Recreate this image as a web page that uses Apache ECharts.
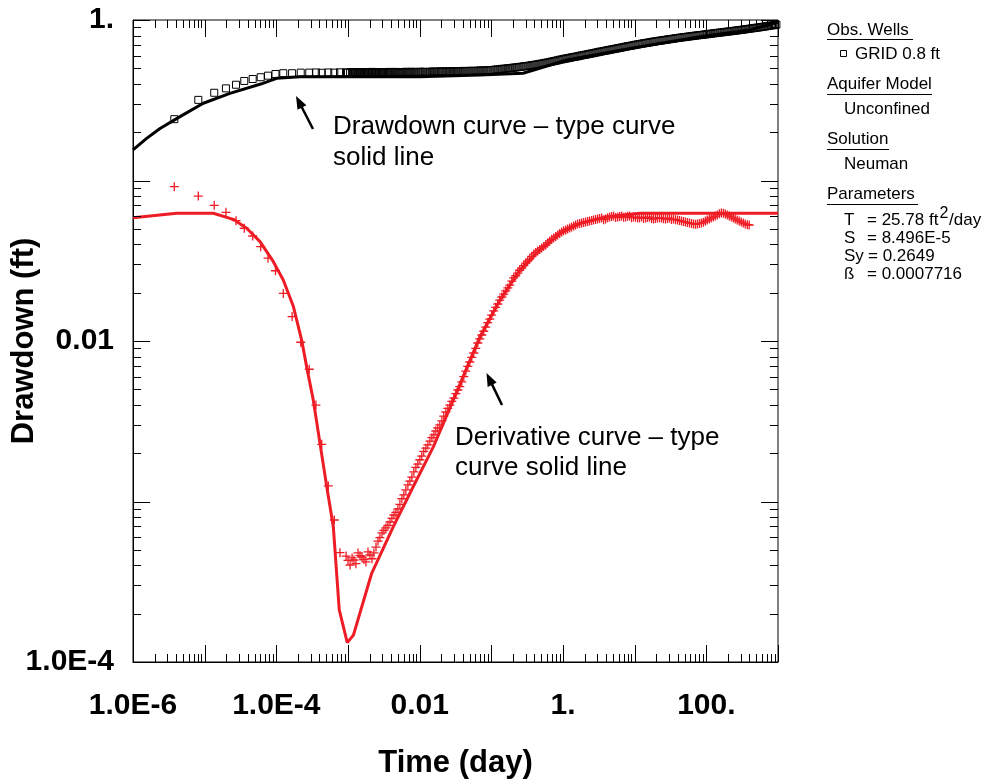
<!DOCTYPE html>
<html>
<head>
<meta charset="utf-8">
<script src="https://cdn.jsdelivr.net/npm/echarts@6/dist/echarts.min.js"></script>
<style>
html,body{margin:0;padding:0;background:#fff;}
#chart{width:990px;height:782px;}
</style>
</head>
<body>
<div id="chart"></div>
<script>
// ---------- DATA ----------
// observation times (day), shared by drawdown and derivative observations
const tObs = [3.77e-6, 8.15e-6, 1.36e-5, 1.98e-5, 2.74e-5, 3.57e-5, 4.68e-5, 6.05e-5, 7.66e-5, 9.73e-5, 1.25e-4, 1.66e-4, 2.19e-4, 2.88e-4, 3.57e-4, 4.30e-4, 5.31e-4, 6.44e-4, 7.73e-4,
  9.4e-4, 1.07e-3, 1.21e-3, 1.38e-3, 1.57e-3, 1.78e-3, 2.02e-3, 2.30e-3, 2.62e-3, 2.98e-3, 3.38e-3, 3.85e-3, 4.37e-3, 4.97e-3, 5.65e-3, 6.42e-3, 7.30e-3, 8.30e-3, 9.44e-3,
  1.07e-2, 1.22e-2, 1.39e-2, 1.58e-2, 1.79e-2, 2.04e-2, 2.32e-2, 2.64e-2, 3.00e-2, 3.41e-2, 3.87e-2, 4.40e-2, 5.00e-2, 5.69e-2, 6.47e-2, 7.35e-2, 8.36e-2, 9.50e-2,
  0.108, 0.123, 0.140, 0.159, 0.181, 0.205, 0.233, 0.265, 0.302, 0.343, 0.390, 0.443, 0.504, 0.573, 0.652, 0.741, 0.842, 0.958,
  1.09, 1.24, 1.41, 1.60, 1.82, 2.07, 2.35, 2.67, 3.04, 3.46, 3.93, 4.47, 5.08, 5.78, 6.57, 7.47, 8.49, 9.65,
  11.0, 12.5, 14.2, 16.1, 18.3, 20.8, 23.7, 26.9, 30.6, 34.8, 39.6, 45.0, 51.1, 58.1, 66.1, 75.1, 85.4, 97.1,
  110, 125, 142, 162, 184, 209, 238, 270, 307, 349, 397, 451, 513, 583, 663, 754, 857, 950];

// observed drawdown (ft) - open squares
const sObs = [0.241, 0.318, 0.352, 0.375, 0.395, 0.417, 0.429, 0.440, 0.450, 0.461, 0.466, 0.466, 0.470, 0.470, 0.471, 0.469, 0.471, 0.470, 0.472,
  0.472, 0.470, 0.473, 0.471, 0.474, 0.470, 0.472, 0.473, 0.471, 0.474, 0.472, 0.475, 0.473, 0.471, 0.474, 0.476, 0.473, 0.475, 0.474,
  0.475, 0.474, 0.476, 0.477, 0.475, 0.478, 0.477, 0.479, 0.478, 0.480, 0.479, 0.481, 0.482, 0.481, 0.483, 0.484, 0.485, 0.487,
  0.489, 0.492, 0.496, 0.498, 0.501, 0.505, 0.508, 0.512, 0.516, 0.520, 0.525, 0.530, 0.535, 0.541, 0.547, 0.554, 0.561, 0.568,
  0.575, 0.581, 0.588, 0.594, 0.602, 0.608, 0.615, 0.622, 0.630, 0.637, 0.644, 0.652, 0.659, 0.666, 0.674, 0.682, 0.689, 0.697,
  0.705, 0.712, 0.719, 0.726, 0.733, 0.740, 0.746, 0.752, 0.759, 0.765, 0.772, 0.778, 0.784, 0.790, 0.796, 0.802, 0.807, 0.813,
  0.819, 0.825, 0.831, 0.837, 0.843, 0.849, 0.855, 0.861, 0.868, 0.875, 0.882, 0.889, 0.896, 0.904, 0.912, 0.920, 0.928, 0.935];

// observed derivative (ft) - red crosses (ends before the last observation times)
const dObs = [0.0915, 0.080, 0.070, 0.0633, 0.0562, 0.0504, 0.0451, 0.0387, 0.0328, 0.0274, 0.0198, 0.0142, 0.00982, 0.00667, 0.00399, 0.00227, 0.00125, 0.000767, 0.000480,
  4.57e-4, 4.02e-4, 4.32e-4, 4.78e-4, 4.51e-4, 4.20e-4, 4.64e-4, 4.78e-4, 5.67e-4, 6.37e-4, 6.84e-4, 7.45e-4, 8.24e-4, 8.98e-4, 1.04e-3, 1.18e-3, 1.34e-3, 1.53e-3, 1.71e-3,
  1.92e-3, 2.15e-3, 2.38e-3, 2.60e-3, 2.87e-3, 3.18e-3, 3.61e-3, 3.99e-3, 4.41e-3, 4.95e-3, 5.56e-3, 6.50e-3, 7.40e-3, 8.42e-3, 9.72e-3, 1.09e-2, 1.22e-2, 1.37e-2,
  1.54e-2, 1.70e-2, 1.88e-2, 2.05e-2, 2.23e-2, 2.47e-2, 2.65e-2, 2.85e-2, 3.06e-2, 3.24e-2, 3.48e-2, 3.64e-2, 3.80e-2, 3.96e-2, 4.20e-2, 4.38e-2, 4.58e-2, 4.78e-2,
  4.92e-2, 5.06e-2, 5.21e-2, 5.36e-2, 5.43e-2, 5.51e-2, 5.59e-2, 5.67e-2, 5.75e-2, 5.83e-2, 5.75e-2, 5.92e-2, 6.01e-2, 5.92e-2, 6.01e-2, 5.92e-2, 6.01e-2, 5.92e-2,
  5.83e-2, 5.92e-2, 5.83e-2, 5.92e-2, 5.75e-2, 5.83e-2, 5.83e-2, 5.75e-2, 5.83e-2, 5.75e-2, 5.67e-2, 5.59e-2, 5.51e-2, 5.43e-2, 5.36e-2, 5.36e-2, 5.43e-2, 5.59e-2,
  5.75e-2, 5.92e-2, 6.10e-2, 6.28e-2, 6.18e-2, 6.01e-2, 5.83e-2, 5.67e-2, 5.51e-2, 5.36e-2, 5.28e-2];

// second (interleaved) block of logger readings in the dense part of the record
const tObsB = [1.00e-3, 1.14e-3, 1.29e-3, 1.47e-3, 1.67e-3, 1.90e-3, 2.16e-3, 2.46e-3, 2.79e-3, 3.17e-3, 3.61e-3, 4.10e-3, 4.66e-3, 5.30e-3, 6.02e-3, 6.85e-3, 7.78e-3, 8.85e-3, 1.005e-2,
  1.14e-2, 1.30e-2, 1.48e-2, 1.68e-2, 1.91e-2, 2.17e-2, 2.47e-2, 2.81e-2, 3.20e-2, 3.63e-2, 4.13e-2, 4.69e-2, 5.33e-2, 6.07e-2, 6.90e-2, 7.84e-2, 8.91e-2, 0.101,
  0.115, 0.131, 0.149, 0.170, 0.193, 0.219, 0.248, 0.283, 0.322, 0.366, 0.416, 0.473, 0.537, 0.611, 0.695, 0.790, 0.898, 1.02,
  1.16, 1.32, 1.50, 1.71, 1.94, 2.21, 2.51, 2.85, 3.24, 3.69, 4.19, 4.77, 5.42, 6.16, 7.00, 7.96, 9.05, 10.3,
  11.7, 13.3, 15.1, 17.2, 19.5, 22.2, 25.2, 28.7, 32.6, 37.1, 42.2, 48.0, 54.5, 62.0, 70.5, 80.1, 91.1, 103,
  117, 133, 152, 173, 196, 223, 253, 288, 328, 373, 424, 482, 548, 623, 708, 805, 903];
const sObsB = [0.470, 0.474, 0.472, 0.469, 0.473, 0.471, 0.475, 0.470, 0.473, 0.472, 0.470, 0.474, 0.475, 0.472, 0.473, 0.471, 0.476, 0.473, 0.476,
  0.476, 0.473, 0.477, 0.476, 0.479, 0.476, 0.480, 0.477, 0.481, 0.478, 0.482, 0.480, 0.483, 0.482, 0.485, 0.484, 0.487, 0.488,
  0.491, 0.493, 0.497, 0.500, 0.503, 0.506, 0.510, 0.514, 0.518, 0.523, 0.527, 0.533, 0.538, 0.544, 0.551, 0.557, 0.565, 0.572,
  0.578, 0.585, 0.591, 0.598, 0.605, 0.612, 0.619, 0.626, 0.634, 0.641, 0.648, 0.655, 0.663, 0.670, 0.678, 0.686, 0.693, 0.701,
  0.708, 0.716, 0.722, 0.730, 0.736, 0.743, 0.749, 0.756, 0.762, 0.769, 0.775, 0.781, 0.787, 0.793, 0.799, 0.805, 0.810, 0.816,
  0.822, 0.828, 0.834, 0.840, 0.846, 0.852, 0.858, 0.865, 0.871, 0.879, 0.886, 0.893, 0.900, 0.908, 0.916, 0.924, 0.932];
const dObsB = [4.30e-4, 4.45e-4, 4.10e-4, 4.60e-4, 4.35e-4, 4.85e-4, 4.40e-4, 5.20e-4, 5.95e-4, 6.60e-4, 7.10e-4, 7.85e-4, 8.55e-4, 9.60e-4, 1.10e-3, 1.27e-3, 1.42e-3, 1.63e-3, 1.82e-3,
  2.05e-3, 2.25e-3, 2.50e-3, 2.75e-3, 3.00e-3, 3.40e-3, 3.80e-3, 4.20e-3, 4.70e-3, 5.20e-3, 6.00e-3, 6.95e-3, 7.90e-3, 9.00e-3, 1.03e-2, 1.15e-2, 1.30e-2, 1.45e-2,
  1.62e-2, 1.80e-2, 1.96e-2, 2.14e-2, 2.36e-2, 2.55e-2, 2.76e-2, 2.95e-2, 3.15e-2, 3.36e-2, 3.56e-2, 3.72e-2, 3.88e-2, 4.08e-2, 4.30e-2, 4.48e-2, 4.68e-2, 4.86e-2,
  4.99e-2, 5.14e-2, 5.28e-2, 5.40e-2, 5.47e-2, 5.55e-2, 5.63e-2, 5.71e-2, 5.79e-2, 5.70e-2, 5.86e-2, 5.96e-2, 5.88e-2, 5.97e-2, 5.90e-2, 5.98e-2, 5.87e-2, 5.90e-2,
  5.87e-2, 5.80e-2, 5.88e-2, 5.79e-2, 5.80e-2, 5.86e-2, 5.78e-2, 5.80e-2, 5.71e-2, 5.70e-2, 5.63e-2, 5.55e-2, 5.47e-2, 5.40e-2, 5.33e-2, 5.40e-2, 5.50e-2, 5.67e-2,
  5.84e-2, 6.00e-2, 6.20e-2, 6.24e-2, 6.10e-2, 5.92e-2, 5.75e-2, 5.59e-2, 5.43e-2, 5.30e-2];

// Neuman type curve: drawdown
const tTypeS = [1e-6, 1.55e-6, 2.38e-6, 4.53e-6, 9.57e-6, 2.25e-5, 6.05e-5, 1.01e-4, 2.14e-4, 1.01e-2, 6.94e-2, 0.277, 1.13, 9.46, 81.5, 406, 1000];
const sType  = [0.155, 0.183, 0.211, 0.250, 0.303, 0.349, 0.399, 0.433, 0.443, 0.443, 0.454, 0.466, 0.563, 0.669, 0.787, 0.867, 0.972];

// Neuman type curve: derivative
const tTypeD = [1e-6, 4.07e-6, 1.32e-5, 2.51e-5, 3.85e-5, 5.92e-5, 9.08e-5, 1.25e-4, 1.73e-4, 2.26e-4, 2.65e-4, 3.28e-4, 4.06e-4, 5.05e-4, 6.24e-4, 7.55e-4, 9.77e-4, 1.19e-3, 2.14e-3, 4.29e-3, 8.15e-3, 1.55e-2, 2.94e-2, 6.94e-2, 0.132, 0.251, 0.477, 0.907, 1.73, 4.06, 11.9, 1000];
const dType  = [0.0586, 0.0625, 0.0625, 0.0573, 0.0504, 0.0416, 0.0312, 0.0240, 0.0164, 0.0101, 0.0069, 0.00428, 0.00231, 0.00124, 0.000697, 0.000211, 0.000132, 0.000147, 0.000357, 0.000697, 0.00124, 0.00219, 0.00428, 0.01064, 0.0180, 0.0277, 0.0369, 0.0469, 0.0541, 0.0595, 0.0625, 0.0625];

// axis ranges and tick labels
const xRange = [1e-6, 1000];
const yRange = [1e-4, 1];
const xTickExps = [-6, -4, -2, 0, 2];
const xTickLabels = ['1.0E-6', '1.0E-4', '0.01', '1.', '100.'];
const yTickExps = [-4, -2, 0];
const yTickLabels = ['1.0E-4', '0.01', '1.'];

// ---------- CHART ----------
const FONT = '"Liberation Sans", Arial, Helvetica, sans-serif';
const RED = '#ee1c25';

function zip(xs, ys) { const out = []; for (let i = 0; i < ys.length; i++) out.push([xs[i], ys[i]]); return out; }
function labelFor(exps, labels) {
  return function (v) {
    const e = Math.round(Math.log10(v));
    if (Math.abs(Math.log10(v) - e) > 1e-6) return '';
    const i = exps.indexOf(e);
    return i >= 0 ? labels[i] : '';
  };
}
function logTicks(range) {
  const out = [];
  const e0 = Math.round(Math.log10(range[0])), e1 = Math.round(Math.log10(range[1]));
  for (let e = e0; e <= e1; e++) {
    for (let m = 1; m <= 9; m++) {
      const v = m * Math.pow(10, e);
      if (v > range[1] * 1.0000001) break;
      out.push({ v: v, major: m === 1 });
    }
  }
  return out;
}
const xTicks = logTicks(xRange);
const yTicks = logTicks(yRange);

function arrow(tipX, tipY, tailX, tailY) {
  const dx = tipX - tailX, dy = tipY - tailY, L = Math.sqrt(dx * dx + dy * dy);
  const ux = dx / L, uy = dy / L, hl = 13, hw = 5;
  const bx = tipX - ux * hl, by = tipY - uy * hl;
  return [
    { type: 'line', shape: { x1: tailX, y1: tailY, x2: bx + ux * 2, y2: by + uy * 2 }, style: { stroke: '#000', lineWidth: 2.5 } },
    { type: 'polygon', shape: { points: [[tipX, tipY], [bx - uy * hw, by + ux * hw], [bx + uy * hw, by - ux * hw]] }, style: { fill: '#000' } }
  ];
}
function txt(x, y, s, size) {
  return { type: 'text', x: x, y: y, style: { text: s, font: size + 'px ' + FONT, fill: '#000', verticalAlign: 'middle', textVerticalAlign: 'middle', align: 'left', textAlign: 'left' } };
}
function uline(x1, x2, y) {
  return { type: 'line', shape: { x1: x1, y1: y, x2: x2, y2: y }, style: { stroke: '#000', lineWidth: 1 } };
}

const graphics = [].concat(
  arrow(296, 96, 313, 129),
  arrow(486.5, 373, 502, 405),
  [
    txt(333, 127, 'Drawdown curve \u2013 type curve', 26),
    txt(333, 158, 'solid line', 26),
    txt(455, 438, 'Derivative curve \u2013 type', 26),
    txt(455, 468, 'curve solid line', 26),
    // side legend
    txt(827, 30, 'Obs. Wells', 17), uline(827, 913, 39.5),
    { type: 'rect', shape: { x: 840.5, y: 50.5, width: 6, height: 6 }, style: { fill: 'none', stroke: '#000', lineWidth: 1 } },
    txt(855, 54, 'GRID 0.8 ft', 17),
    txt(827, 84, 'Aquifer Model', 17), uline(827, 932, 94.5),
    txt(844, 109, 'Unconfined', 17),
    txt(827, 139, 'Solution', 17), uline(827, 889, 149.5),
    txt(844, 164, 'Neuman', 17),
    txt(827, 194, 'Parameters', 17), uline(827, 918, 204.5),
    txt(844, 220, 'T', 17), txt(867, 220, '= 25.78 ft', 17), txt(939.5, 214, '2', 16), txt(949, 220, '/day', 17),
    txt(844, 238, 'S', 17), txt(867, 238, '= 8.496E-5', 17),
    txt(844, 256, 'Sy', 17), txt(868, 256, '= 0.2649', 17),
    txt(844, 274, '\u00df', 17), txt(867, 274, '= 0.0007716', 17)
  ]
);

const chart = echarts.init(document.getElementById('chart'), null, { renderer: 'canvas' });
const obsSquare = { color: 'none', borderColor: '#000', borderWidth: 1, opacity: 1 };
const obsCross = { color: 'none', borderColor: RED, borderWidth: 1.3, opacity: 1 };
const CROSS = 'path://M0,5L10,5M5,0L5,10';
const option = {
  animation: false,
  backgroundColor: '#fff',
  grid: { left: 133, top: 20, width: 645, height: 642, containLabel: false, outerBoundsMode: 'none', show: true, borderColor: '#000', borderWidth: 1, backgroundColor: 'transparent' },
  xAxis: {
    type: 'log', logBase: 10, min: xRange[0], max: xRange[1],
    name: 'Time (day)', nameLocation: 'middle', nameGap: 86, nameMoveOverlap: false,
    nameTextStyle: { fontFamily: FONT, fontWeight: 'bold', fontSize: 31, color: '#000' },
    axisLine: { show: true, lineStyle: { color: '#000', width: 1 } },
    axisTick: { show: false }, minorTick: { show: false },
    splitLine: { show: false }, minorSplitLine: { show: false },
    axisLabel: { formatter: labelFor(xTickExps, xTickLabels), margin: 29, fontFamily: FONT, fontWeight: 'bold', fontSize: 30, color: '#000', showMinLabel: true, showMaxLabel: true, hideOverlap: false }
  },
  yAxis: {
    type: 'log', logBase: 10, min: yRange[0], max: yRange[1],
    name: 'Drawdown (ft)', nameLocation: 'middle', nameGap: 93, nameRotate: 90, nameMoveOverlap: false,
    nameTextStyle: { fontFamily: FONT, fontWeight: 'bold', fontSize: 31, color: '#000' },
    axisLine: { show: true, lineStyle: { color: '#000', width: 1 } },
    axisTick: { show: false }, minorTick: { show: false },
    splitLine: { show: false }, minorSplitLine: { show: false },
    axisLabel: { formatter: labelFor(yTickExps, yTickLabels), margin: 19, fontFamily: FONT, fontWeight: 'bold', fontSize: 30, color: '#000', showMinLabel: true, showMaxLabel: true, hideOverlap: false }
  },
  series: [
    { name: 'Type curve', type: 'line', data: zip(tTypeS, sType), showSymbol: false, symbol: 'none', lineStyle: { color: '#000', width: 3 }, z: 2, clip: true },
    { name: 'Derivative type curve', type: 'line', data: zip(tTypeD, dType), showSymbol: false, symbol: 'none', lineStyle: { color: RED, width: 3 }, z: 2, clip: true },
    { name: 'GRID 0.8 ft', type: 'scatter', data: zip(tObs, sObs), symbol: 'rect', symbolSize: 7, itemStyle: obsSquare, z: 3, clip: true },
    { name: 'GRID 0.8 ft (b)', type: 'scatter', data: zip(tObsB, sObsB), symbol: 'rect', symbolSize: 7, itemStyle: obsSquare, z: 3, clip: true },
    { name: 'Derivative', type: 'scatter', data: zip(tObs, dObs), symbol: CROSS, symbolSize: 9, itemStyle: obsCross, z: 3, clip: true },
    { name: 'Derivative (b)', type: 'scatter', data: zip(tObsB, dObsB), symbol: CROSS, symbolSize: 9, itemStyle: obsCross, z: 3, clip: true },
    {
      name: 'ticks', type: 'custom', silent: true, clip: false, z: 5,
      data: [[1, 0.01]],
      renderItem: function (params, api) {
        const cs = params.coordSys;
        const ch = [];
        const L = cs.x, R = cs.x + cs.width, T = cs.y, B = cs.y + cs.height;
        xTicks.forEach(function (t) {
          const px = Math.round(api.coord([t.v, 0.01])[0]) + 0.5;
          const len = t.major ? 17 : 8;
          ch.push({ type: 'line', shape: { x1: px, y1: B, x2: px, y2: B - len }, style: { stroke: '#000', lineWidth: 1 } });
          ch.push({ type: 'line', shape: { x1: px, y1: T, x2: px, y2: T + len }, style: { stroke: '#000', lineWidth: 1 } });
        });
        yTicks.forEach(function (t) {
          const py = Math.round(api.coord([1, t.v])[1]) + 0.5;
          const len = t.major ? 17 : 8;
          ch.push({ type: 'line', shape: { x1: L, y1: py, x2: L + len, y2: py }, style: { stroke: '#000', lineWidth: 1 } });
          ch.push({ type: 'line', shape: { x1: R, y1: py, x2: R - len, y2: py }, style: { stroke: '#000', lineWidth: 1 } });
        });
        return { type: 'group', children: ch };
      }
    }
  ],
  graphic: graphics
};
chart.setOption(option);
</script>
</body>
</html>
